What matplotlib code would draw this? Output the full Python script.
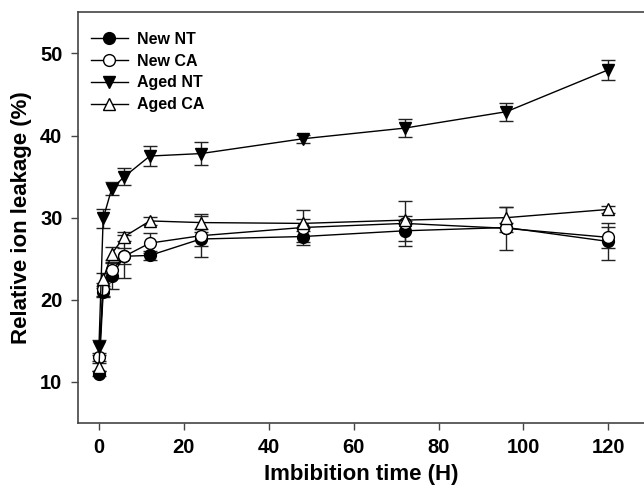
import matplotlib
matplotlib.use("Agg")
import matplotlib.pyplot as plt
from matplotlib.lines import Line2D

plt.rcParams['font.family'] = ['Liberation Sans', 'DejaVu Sans']
plt.rcParams['font.weight'] = 'bold'

time_h = [0, 1, 3, 6, 12, 24, 48, 72, 96, 120]

new_nt = [11.0, 20.9, 22.9, 25.3, 25.4, 27.4, 27.7, 28.4, 28.8, 27.1]
new_nt_err = [0.3, 0.5, 1.6, 1.0, 0.6, 0.8, 0.7, 1.2, 0.5, 2.2]

new_ca = [13.0, 21.3, 23.6, 25.3, 26.9, 27.8, 28.8, 29.3, 28.7, 27.6]
new_ca_err = [0.5, 0.8, 1.0, 2.6, 1.2, 2.6, 2.1, 2.7, 2.6, 1.3]

aged_nt = [14.2, 29.9, 33.5, 35.0, 37.5, 37.8, 39.6, 40.9, 42.9, 48.0]
aged_nt_err = [0.9, 1.2, 0.8, 1.0, 1.2, 1.4, 0.5, 1.1, 1.1, 1.2]

aged_ca = [11.8, 22.5, 25.6, 27.7, 29.6, 29.4, 29.3, 29.7, 30.0, 31.0]
aged_ca_err = [0.5, 0.8, 0.8, 0.6, 0.5, 0.8, 0.5, 0.5, 1.3, 0.4]

series = [
    ("New NT", new_nt, new_nt_err, 'o', 'black'),
    ("New CA", new_ca, new_ca_err, 'o', 'white'),
    ("Aged NT", aged_nt, aged_nt_err, 'v', 'black'),
    ("Aged CA", aged_ca, aged_ca_err, '^', 'white'),
]

fig = plt.figure(figsize=(6.44, 4.94), dpi=100)
ax = fig.add_axes([77.7/644, 71/494, 1 - 77.7/644, (423-12.3)/494])

handles = []
for label, vals, errs, mk, fc in series:
    ax.errorbar(time_h, vals, yerr=errs, marker=mk, markersize=8.5,
                markerfacecolor=fc, markeredgecolor='black', markeredgewidth=1,
                color='black', linewidth=1, ecolor='#222222', elinewidth=1,
                capsize=5, capthick=1)
    handles.append(Line2D([], [], marker=mk, markersize=8.5, markerfacecolor=fc,
                          markeredgecolor='black', markeredgewidth=1,
                          color='black', linewidth=1, label=label))

ax.set_xlim(-5, 128.4)
ax.set_ylim(5, 55)
ax.set_xticks([0, 20, 40, 60, 80, 100, 120])
ax.set_yticks([10, 20, 30, 40, 50])
ax.tick_params(direction='out', length=5, width=1, labelsize=14.5, color='#444444')
ax.tick_params(axis='x', pad=6)
ax.tick_params(axis='y', pad=6)
for lab in ax.get_xticklabels() + ax.get_yticklabels():
    lab.set_fontweight('bold')
for s in ['left', 'bottom', 'top']:
    ax.spines[s].set_color('#444444')
    ax.spines[s].set_linewidth(1.2)
ax.spines['right'].set_visible(False)

ax.set_xlabel('Imbibition time (H)', fontsize=16, fontweight='bold', labelpad=5)
ax.set_ylabel('Relative ion leakage (%)', fontsize=16, fontweight='bold', labelpad=6)

leg = ax.legend(handles=handles, loc='upper left', frameon=False, fontsize=11.5,
                handlelength=2.3, labelspacing=0.42, borderaxespad=0, borderpad=0,
                handletextpad=0.6, bbox_to_anchor=(0.0235, 0.952))
for t in leg.get_texts():
    t.set_fontweight('bold')

fig.savefig('out.png', dpi=100)
